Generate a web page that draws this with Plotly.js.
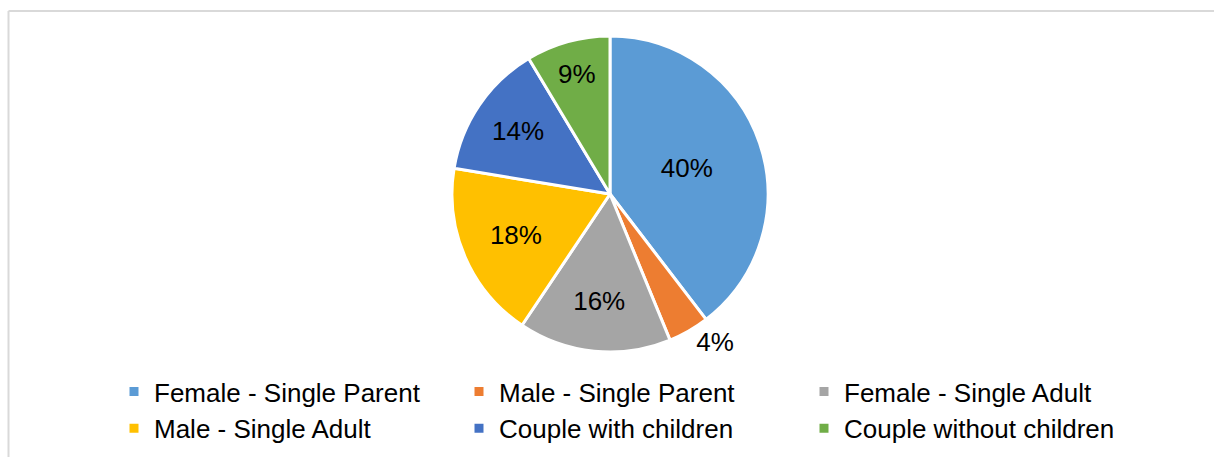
<!DOCTYPE html>
<html>
<head>
<meta charset="utf-8">
<script src="https://cdn.plot.ly/plotly-3.0.1.min.js"></script>
<style>
  html, body { margin: 0; padding: 0; background: #ffffff; }
  #chart { width: 1214px; height: 457px; }
</style>
</head>
<body>
<div id="chart"></div>
<script>
// Household types
const categories = [
  "Female - Single Parent",
  "Male - Single Parent",
  "Female - Single Adult",
  "Male - Single Adult",
  "Couple with children",
  "Couple without children"
];
// Share of households (%)
const shares = [39.6, 4.2, 15.6, 18.2, 13.8, 8.6];
const colors = ["#5B9BD5", "#ED7D31", "#A5A5A5", "#FFC000", "#4472C4", "#70AD47"];
const textPositions = ["inside", "outside", "inside", "inside", "inside", "inside"];

const W = 1214, H = 457;
const fontFamily = "'Liberation Sans', Arial, sans-serif";

const trace = {
  type: "pie",
  labels: categories,
  values: shares,
  sort: false,
  direction: "clockwise",
  rotation: 0,
  marker: { colors: colors, line: { color: "#ffffff", width: 3 } },
  textinfo: "percent",
  texttemplate: "%{percent:.0%}",
  textposition: textPositions,
  insidetextorientation: "horizontal",
  textfont: { family: fontFamily, size: 26, color: "#000000" },
  outsidetextfont: { family: fontFamily, size: 26, color: "#000000" },
  hoverinfo: "label+percent",
  domain: { x: [452 / W, 768 / W], y: [1 - 352 / H, 1 - 36 / H] }
};

const layout = {
  width: W,
  height: H,
  margin: { l: 0, r: 0, t: 0, b: 0 },
  paper_bgcolor: "#ffffff",
  font: { family: fontFamily, size: 26, color: "#000000" },
  showlegend: true,
  legend: {
    orientation: "h",
    x: 114 / W,
    xanchor: "left",
    y: 1 - 368 / H,
    yanchor: "top",
    entrywidth: 300,
    entrywidthmode: "pixels",
    tracegroupgap: 0,
    traceorder: "normal",
    font: { family: fontFamily, size: 26, color: "#000000" },
    bgcolor: "rgba(0,0,0,0)"
  },
  shapes: [
    { type: "line", xref: "paper", yref: "paper", x0: 8.5 / W, x1: 8.5 / W, y0: 1 - 11 / H, y1: -0.1,
      line: { color: "#D9D9D9", width: 2 } },
    { type: "line", xref: "paper", yref: "paper", x0: 8.5 / W, x1: 1.1, y0: 1 - 11 / H, y1: 1 - 11 / H,
      line: { color: "#D9D9D9", width: 2 } }
  ]
};

Plotly.newPlot("chart", [trace], layout, { displayModeBar: false, staticPlot: true });
</script>
</body>
</html>
